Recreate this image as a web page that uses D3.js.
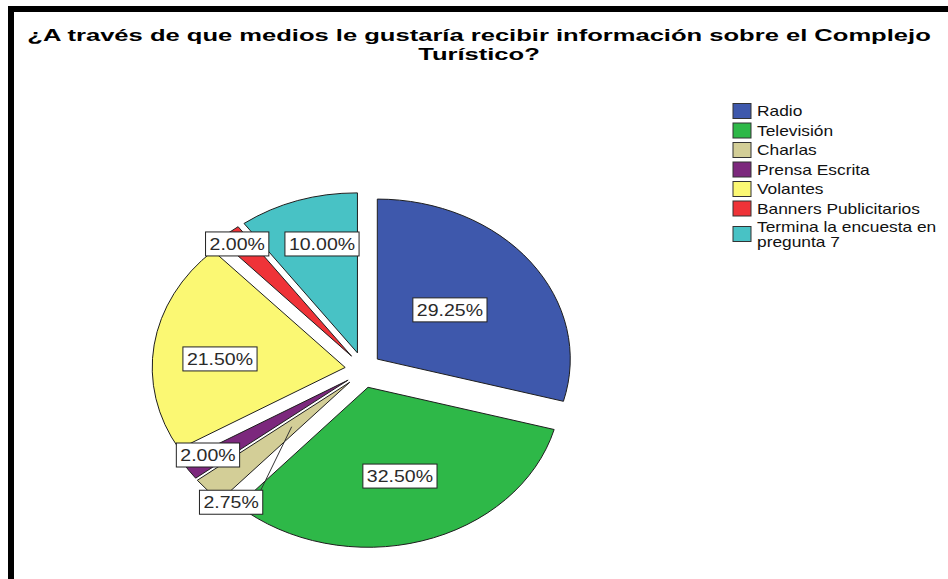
<!DOCTYPE html>
<html><head><meta charset="utf-8">
<script src="https://cdn.jsdelivr.net/npm/d3@7/dist/d3.min.js"></script>
<style>body{margin:0;background:#fff}svg{display:block}</style>
</head><body>
<script>
// ---------- data ----------
const categories = ["Radio","Televisión","Charlas","Prensa Escrita","Volantes","Banners Publicitarios","Termina la encuesta en pregunta 7"];
const percentages = [29.25, 32.50, 2.75, 2.00, 21.50, 2.00, 10.00];
const colors = ["#3E58AC","#2EB848","#D3CE97","#7C287D","#FBF873","#EF3338","#48C2C5"];
const titleLines = ["¿A través de que medios le gustaría recibir información sobre el Complejo","Turístico?"];
const legendLines = [["Radio"],["Televisión"],["Charlas"],["Prensa Escrita"],["Volantes"],["Banners Publicitarios"],["Termina la encuesta en","pregunta 7"]];

// ---------- layout ----------
const W = 948, H = 579;
const cx = 363, cy = 370, R = 160, SXE = 1.206, EXPLODE = 18;
const labelFrac  = [0.486, 0.579, 0.97, 0.864, 0.651, 0.918, 0.705];
const labelShift = [-1.9, -0.4, -7.9, 1.4, -3.4, -0.6, 2.9]; // degrees
const leaderFrom = {2: 0.41};  // slice index -> radial fraction of leader start
const FONT = "'Liberation Sans', Arial, sans-serif";

const svg = d3.select("body").append("svg").attr("width", W).attr("height", H);
svg.append("rect").attr("width", W).attr("height", H).attr("fill", "#fff");

// frame
svg.append("rect").attr("x", 8).attr("y", 6).attr("width", W - 8).attr("height", 6).attr("fill", "#000");
svg.append("rect").attr("x", 8).attr("y", 6).attr("width", 6).attr("height", H - 6).attr("fill", "#000");

// title
const tg = svg.append("g");
const t1 = tg.append("text").text(titleLines[0])
  .attr("font-family", FONT).attr("font-weight", "bold").attr("font-size", 16).attr("fill", "#000")
  .attr("text-anchor", "middle");
const tw = t1.node().getComputedTextLength();
const tsx = 904 / tw;
t1.attr("transform", `translate(479,41) scale(${tsx},1)`);
tg.append("text").text(titleLines[1])
  .attr("font-family", FONT).attr("font-weight", "bold").attr("font-size", 16).attr("fill", "#000")
  .attr("text-anchor", "middle")
  .attr("transform", `translate(479,60) scale(${tsx},1)`);

// pie
const pie = d3.pie().sort(null).value(d => d);
const arcs = pie(percentages);
const arc = d3.arc().innerRadius(0).outerRadius(R);
const rad = Math.PI / 180;

const slices = svg.append("g");
arcs.forEach((a, i) => {
  const mid = (a.startAngle + a.endAngle) / 2;
  a.ox = cx + EXPLODE * Math.sin(mid);
  a.oy = cy - EXPLODE * Math.cos(mid);
  slices.append("g")
    .attr("transform", `translate(${a.ox},${a.oy}) scale(${SXE},1)`)
    .append("path")
    .attr("d", arc(a))
    .attr("fill", colors[i])
    .attr("stroke", "#1e1e1e")
    .attr("stroke-width", 1)
    .attr("vector-effect", "non-scaling-stroke")
    .attr("stroke-linejoin", "round");
});

function polar(a, frac, angle) {
  const r = frac * R;
  return [a.ox + SXE * r * Math.sin(angle), a.oy - r * Math.cos(angle)];
}

// labels
const LSX = 1.22;
const lg = svg.append("g");
arcs.forEach((a, i) => {
  const mid = (a.startAngle + a.endAngle) / 2;
  const [x, y] = polar(a, labelFrac[i], mid + labelShift[i] * rad);
  const g = lg.append("g");
  const rect = g.append("rect");
  const t = g.append("text").text(percentages[i].toFixed(2) + "%")
    .attr("font-family", FONT).attr("font-size", 16).attr("fill", "#2a2a2a")
    .attr("text-anchor", "middle").attr("dominant-baseline", "central")
    .attr("transform", `translate(${x},${y + 0.5}) scale(${LSX},1)`);
  const w = t.node().getComputedTextLength() * LSX + 8;
  rect.attr("x", x - w / 2).attr("y", y - 12).attr("width", w).attr("height", 24)
    .attr("fill", "#fff").attr("stroke", "#222").attr("stroke-width", 1);
  if (leaderFrom[i] !== undefined) {
    const [lx, ly] = polar(a, leaderFrom[i], mid);
    lg.insert("line", ":first-child")
      .attr("x1", lx).attr("y1", ly).attr("x2", x + w / 2 - 2).attr("y2", y - 12)
      .attr("stroke", "#333").attr("stroke-width", 1);
  }
});

// legend
const LGSX = 1.24;
const leg = svg.append("g");
let cyL = 111;
legendLines.forEach((lines, i) => {
  const c = cyL + (lines.length - 1) * 6;
  leg.append("rect").attr("x", 733).attr("y", c - 7.5).attr("width", 18).attr("height", 15)
    .attr("fill", colors[i]).attr("stroke", "#333").attr("stroke-width", 1);
  lines.forEach((ln, j) => {
    leg.append("text").text(ln)
      .attr("font-family", FONT).attr("font-size", 14).attr("fill", "#111")
      .attr("transform", `translate(757,${c + 5 - (lines.length - 1) * 7.5 + j * 15}) scale(${LGSX},1)`);
  });
  cyL += 19.5;
});
</script>
</body></html>
